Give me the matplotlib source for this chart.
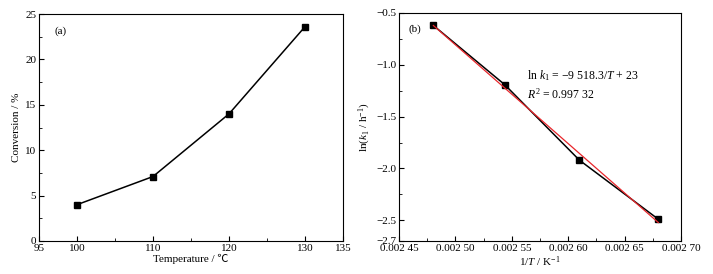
import numpy as np
import matplotlib
matplotlib.use("Agg")
import matplotlib.pyplot as plt
from matplotlib.ticker import MultipleLocator, FixedLocator

plt.rcParams['font.family'] = ['Liberation Serif', 'Noto Sans CJK SC']
plt.rcParams['mathtext.fontset'] = 'custom'
plt.rcParams['mathtext.rm'] = 'Liberation Serif'
plt.rcParams['mathtext.it'] = 'Liberation Serif:italic'
plt.rcParams['font.size'] = 8
plt.rcParams['axes.unicode_minus'] = True

# (a) conversion vs temperature
temps = [100, 110, 120, 130]
conversion = [4.0, 7.1, 14.0, 23.6]

# (b) Arrhenius plot
inv_T = [1 / 403.15, 1 / 393.15, 1 / 383.15, 1 / 373.15]
ln_k = [-0.62, -1.19, -1.92, -2.49]
fit_label = [r'ln $\mathit{k}_1$ = −9 518.3/$\mathit{T}$ + 23',
             r'$\mathit{R}^2$ = 0.997 32']

xticks_b = [0.00245, 0.0025, 0.00255, 0.0026, 0.00265, 0.0027]
xticklabels_b = ['0.002 45', '0.002 50', '0.002 55', '0.002 60', '0.002 65', '0.002 70']
yticks_b = [-2.7, -2.5, -2.0, -1.5, -1.0, -0.5]
yticklabels_b = ['−2.7', '−2.5', '−2.0', '−1.5', '−1.0', '−0.5']

fig = plt.figure(figsize=(7.13, 2.74), dpi=100)
ax1 = fig.add_axes([39 / 713, 1 - 241 / 274, 304 / 713, 227 / 274])
ax2 = fig.add_axes([399 / 713, 1 - 241 / 274, 282 / 713, 228 / 274])

for ax in (ax1, ax2):
    ax.tick_params(direction='in', which='both', top=False, right=False, pad=2)
    ax.tick_params(which='major', length=3.5)
    ax.tick_params(which='minor', length=2)
    for s in ax.spines.values():
        s.set_linewidth(0.8)

ax1.plot(temps, conversion, color='black', lw=1.1, marker='s', ms=5)
ax1.set_xlim(95, 135)
ax1.set_ylim(0, 25)
ax1.xaxis.set_major_locator(FixedLocator([95, 100, 110, 120, 130, 135]))
ax1.xaxis.set_minor_locator(FixedLocator([105, 115, 125]))
ax1.yaxis.set_major_locator(MultipleLocator(5))
ax1.yaxis.set_minor_locator(MultipleLocator(2.5))
ax1.set_xlabel('Temperature / ℃', labelpad=1)
ax1.set_ylabel('Conversion / %', labelpad=3)
ax1.text(0.052, 0.945, '(a)', transform=ax1.transAxes, va='top')

coef = np.polyfit(inv_T, ln_k, 1)
xf = np.array([min(inv_T), max(inv_T)])
ax2.plot(inv_T, ln_k, color='black', lw=1.1, marker='s', ms=5)
ax2.plot(xf, np.polyval(coef, xf), color='#e8262b', lw=0.9)
ax2.set_xlim(0.00245, 0.0027)
ax2.set_ylim(-2.7, -0.5)
ax2.set_xticks(xticks_b)
ax2.set_xticklabels(xticklabels_b)
ax2.xaxis.set_minor_locator(FixedLocator([0.002475, 0.002525, 0.002575, 0.002625, 0.002675]))
ax2.set_yticks(yticks_b)
ax2.set_yticklabels(yticklabels_b)
ax2.yaxis.set_minor_locator(FixedLocator([-2.25, -1.75, -1.25, -0.75]))
ax2.set_xlabel(r'1/$\mathit{T}$ / K$^{-1}$', labelpad=1)
ax2.set_ylabel(r'ln($\mathit{k}_1$ / h$^{-1}$)', labelpad=2)
ax2.text(0.035, 0.95, '(b)', transform=ax2.transAxes, va='top')
ax2.text(0.455, 0.725, fit_label[0], transform=ax2.transAxes, fontsize=8.5, va='center')
ax2.text(0.455, 0.645, fit_label[1], transform=ax2.transAxes, fontsize=8.5, va='center')

fig.savefig('out.png', dpi=100)
